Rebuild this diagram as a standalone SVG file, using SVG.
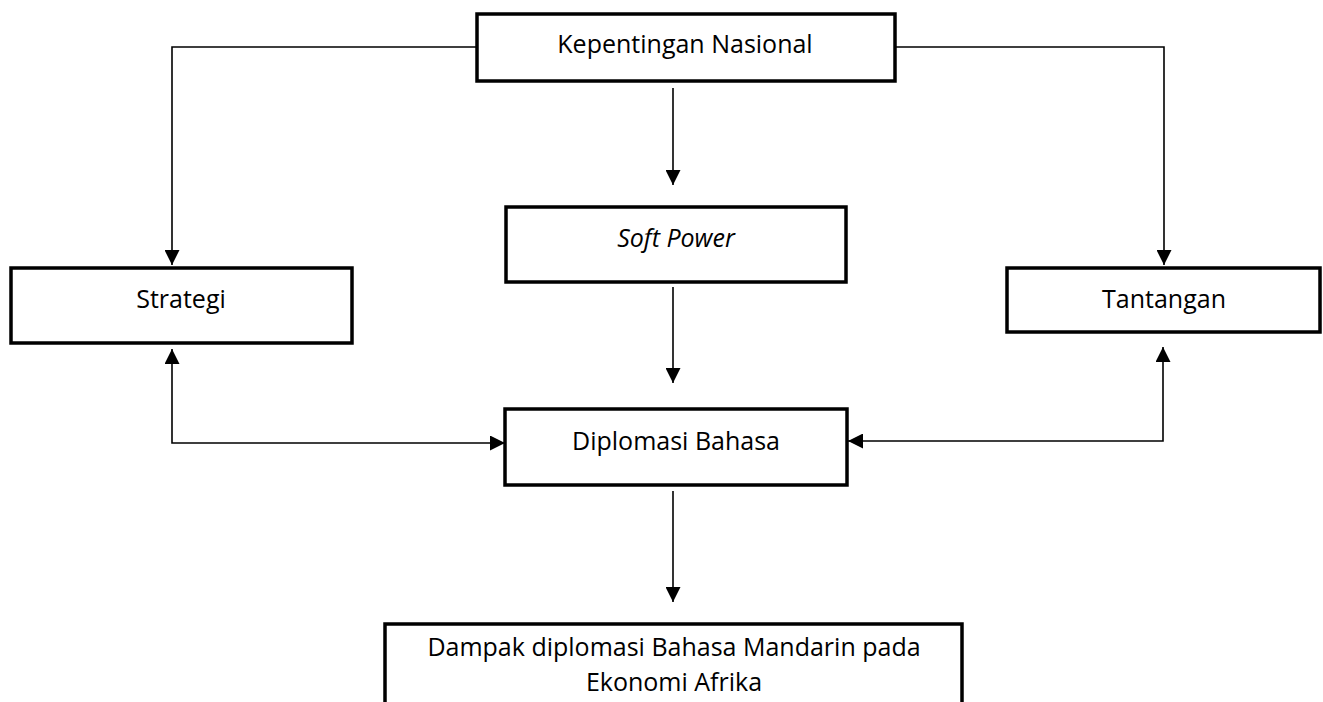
<svg xmlns="http://www.w3.org/2000/svg" width="1323" height="702" viewBox="0 0 1323 702">
<style>
.box{fill:#fff;stroke:#000;stroke-width:3.5}
.t{font-family:"Open Sans","Noto Sans","Liberation Sans",sans-serif;font-size:25px;fill:#000;text-anchor:middle}
.c{fill:none;stroke:#000;stroke-width:1.6}
</style>
<defs>
<marker id="ah" viewBox="0 0 10 10" refX="10" refY="5" markerWidth="15" markerHeight="15" markerUnits="userSpaceOnUse" orient="auto-start-reverse">
<path d="M0,0 L10,5 L0,10 Z" fill="#000"/>
</marker>
</defs>
<g id="connectors">
<path class="c" d="M477,47 H172 V265" marker-end="url(#ah)"/>
<path class="c" d="M895,47 H1164 V265" marker-end="url(#ah)"/>
<path class="c" d="M673,88 V185" marker-end="url(#ah)"/>
<path class="c" d="M673,287 V383" marker-end="url(#ah)"/>
<path class="c" d="M172,349 V443 H505" marker-start="url(#ah)" marker-end="url(#ah)"/>
<path class="c" d="M1163,347 V441 H848" marker-start="url(#ah)" marker-end="url(#ah)"/>
<path class="c" d="M673,491 V602" marker-end="url(#ah)"/>
</g>
<g id="kepentingan">
<rect class="box" x="477" y="14" width="418" height="67"/>
<text class="t" x="685" y="53">Kepentingan Nasional</text>
</g>
<g id="softpower">
<rect class="box" x="506" y="207" width="340" height="75"/>
<text class="t" x="676" y="247" font-style="italic">Soft Power</text>
</g>
<g id="strategi">
<rect class="box" x="11" y="268" width="341" height="75"/>
<text class="t" x="181" y="308">Strategi</text>
</g>
<g id="tantangan">
<rect class="box" x="1007" y="268" width="313" height="64"/>
<text class="t" x="1164" y="308">Tantangan</text>
</g>
<g id="diplomasi">
<rect class="box" x="505" y="409" width="342" height="76"/>
<text class="t" x="676" y="450">Diplomasi Bahasa</text>
</g>
<g id="dampak">
<rect class="box" x="385" y="624" width="577" height="100"/>
<text class="t" x="674" y="656">Dampak diplomasi Bahasa Mandarin pada</text>
<text class="t" x="674" y="691">Ekonomi Afrika</text>
</g>
</svg>
